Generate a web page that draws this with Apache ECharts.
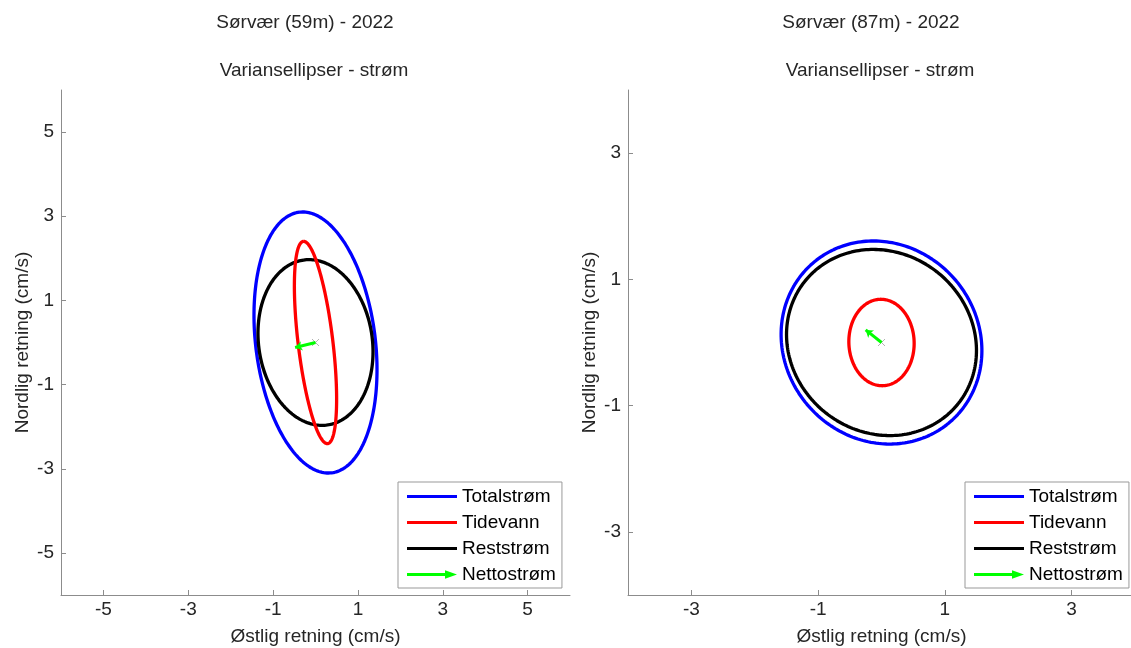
<!DOCTYPE html>
<html>
<head>
<meta charset="utf-8">
<script src="https://cdn.jsdelivr.net/npm/echarts@6/dist/echarts.min.js"></script>
<style>
  html, body { margin: 0; padding: 0; background: #ffffff; }
  #chart { width: 1131px; height: 648px; }
</style>
</head>
<body>
<div id="chart"></div>
<script>
// ---------- data ----------
const panelTitles = ['Sørvær (59m) - 2022', 'Sørvær (87m) - 2022'];
const panelSubtitle = 'Variansellipser - strøm';
const seriesNames = ['Totalstrøm', 'Tidevann', 'Reststrøm', 'Nettostrøm'];
const xAxisName = 'Østlig retning (cm/s)';
const yAxisName = 'Nordlig retning (cm/s)';
// axis ranges and tick labels per panel
const axisMin = [-6, -4];
const axisMax = [6, 4];
const tickValuesLeft = [-5, -3, -1, 1, 3, 5];
const tickValuesRight = [-3, -1, 1, 3];
// variance ellipses per panel: [centerX, centerY, semiMajor, semiMinor, orientationDeg]
const totalEllipse = [[0, 0, 3.12, 1.41, 97.0], [0, 0, 1.66, 1.53, 129.6]];
const tideEllipse = [[0, 0, 2.42, 0.41, 96.8], [0, 0, 0.685, 0.515, 92.0]];
const residualEllipse = [[0, 0, 1.98, 1.34, 98.2], [0, 0, 1.55, 1.42, 140.4]];
// net current vector per panel: [east, north]
const netCurrent = [[-0.48, -0.12], [-0.25, 0.20]];
const origin = [0, 0];

// ---------- styles ----------
const FONT = 'Liberation Sans, Arial, sans-serif';
const FS = 19;
const TXT = '#262626';
const AX = '#8c8c8c';
const colors = { 'Totalstrøm': '#0000ff', 'Tidevann': '#ff0000', 'Reststrøm': '#000000', 'Nettostrøm': '#00ff00' };
const ellipseSets = [totalEllipse, tideEllipse, residualEllipse];

function ellipseRender(params, api) {
  const cx = api.value(0), cy = api.value(1), a = api.value(2), b = api.value(3);
  const phi = api.value(4) * Math.PI / 180;
  const pts = [];
  const N = 240;
  for (let i = 0; i <= N; i++) {
    const t = 2 * Math.PI * i / N;
    const ex = a * Math.cos(t), ey = b * Math.sin(t);
    const x = cx + ex * Math.cos(phi) - ey * Math.sin(phi);
    const y = cy + ex * Math.sin(phi) + ey * Math.cos(phi);
    pts.push(api.coord([x, y]));
  }
  return {
    type: 'polyline',
    shape: { points: pts },
    style: { stroke: api.visual('color'), lineWidth: 3.3, fill: null, lineJoin: 'round' }
  };
}

const lineIcon = 'path://M0,0 L0,0 M0,3.5 L50,3.5 L50,6.5 L0,6.5 Z M50,10 L50,10';
const arrowIcon = 'path://M0,0 L0,0 M0,3.6 L38,3.6 L38,0.8 L50,5 L38,9.2 L38,6.4 L0,6.4 Z M50,10 L50,10';
const xIcon = 'path://M0,0 L10,10 M10,0 L0,10';

const grids = [
  { left: 61, top: 90, width: 509, height: 505, outerBoundsMode: 'none', containLabel: false },
  { left: 628, top: 90, width: 507, height: 505, outerBoundsMode: 'none', containLabel: false }
];
const legendLeft = [398, 965];
const titleCenters = [[300, 309], [866, 875]];
const ticksPerPanel = [tickValuesLeft, tickValuesRight];

const titles = [], xAxes = [], yAxes = [], series = [], legends = [];
for (let p = 0; p < 2; p++) {
  titles.push({ text: panelTitles[p], left: titleCenters[p][0], top: 8, textAlign: 'center',
    textStyle: { fontFamily: FONT, fontSize: FS, fontWeight: 'normal', color: TXT } });
  titles.push({ text: panelSubtitle, left: titleCenters[p][1], top: 56, textAlign: 'center',
    textStyle: { fontFamily: FONT, fontSize: FS, fontWeight: 'normal', color: TXT } });
  const axCommon = {
    gridIndex: p, type: 'value', min: axisMin[p], max: axisMax[p],
    axisLine: { show: true, onZero: false, lineStyle: { color: AX, width: 1 } },
    axisTick: { show: true, inside: true, length: 5, customValues: ticksPerPanel[p], lineStyle: { color: AX } },
    axisLabel: { customValues: ticksPerPanel[p], fontFamily: FONT, fontSize: FS, color: TXT },
    splitLine: { show: false },
    nameLocation: 'middle',
    nameTextStyle: { fontFamily: FONT, fontSize: FS, color: TXT }
  };
  xAxes.push(Object.assign({}, axCommon, { name: xAxisName, nameGap: 32,
    axisLabel: Object.assign({}, axCommon.axisLabel, { margin: 5 }) }));
  yAxes.push(Object.assign({}, axCommon, { name: yAxisName, nameGap: 29,
    axisLabel: Object.assign({}, axCommon.axisLabel, { margin: 7 }) }));

  for (let s = 0; s < 3; s++) {
    series.push({
      type: 'custom', name: seriesNames[s], xAxisIndex: p, yAxisIndex: p,
      renderItem: ellipseRender, itemStyle: { color: colors[seriesNames[s]] },
      data: [ellipseSets[s][p]], silent: true, z: 2 + (s === 1 ? 1 : 0)
    });
  }
  series.push({
    type: 'scatter', name: 'origin', xAxisIndex: p, yAxisIndex: p,
    symbol: xIcon, symbolSize: 7, silent: true,
    itemStyle: { color: 'none', borderColor: '#a0a0a0', borderWidth: 1 },
    data: [origin], z: 4
  });
  series.push({
    type: 'lines', name: seriesNames[3], coordinateSystem: 'cartesian2d', xAxisIndex: p, yAxisIndex: p,
    symbol: ['none', 'arrow'], symbolSize: 7, silent: true,
    lineStyle: { color: colors['Nettostrøm'], width: 3, opacity: 1 },
    itemStyle: { color: colors['Nettostrøm'] },
    data: [{ coords: [origin, netCurrent[p]] }], z: 5
  });

  legends.push({
    left: legendLeft[p], top: 482, orient: 'vertical',
    itemWidth: 50, itemHeight: 10, itemGap: 7,
    padding: [5, 6, 4, 9],
    borderColor: '#999999', borderWidth: 1, backgroundColor: '#ffffff',
    selectedMode: false,
    textStyle: { fontFamily: FONT, fontSize: FS, color: '#000000' },
    data: seriesNames.map(n => ({
      name: n, icon: n === 'Nettostrøm' ? arrowIcon : lineIcon,
      itemStyle: { color: colors[n], borderWidth: 0 }
    }))
  });
}

const chart = echarts.init(document.getElementById('chart'), null, { renderer: 'canvas' });
chart.setOption({
  animation: false,
  backgroundColor: '#ffffff',
  title: titles,
  grid: grids,
  xAxis: xAxes,
  yAxis: yAxes,
  legend: legends,
  series: series
});
</script>
</body>
</html>
